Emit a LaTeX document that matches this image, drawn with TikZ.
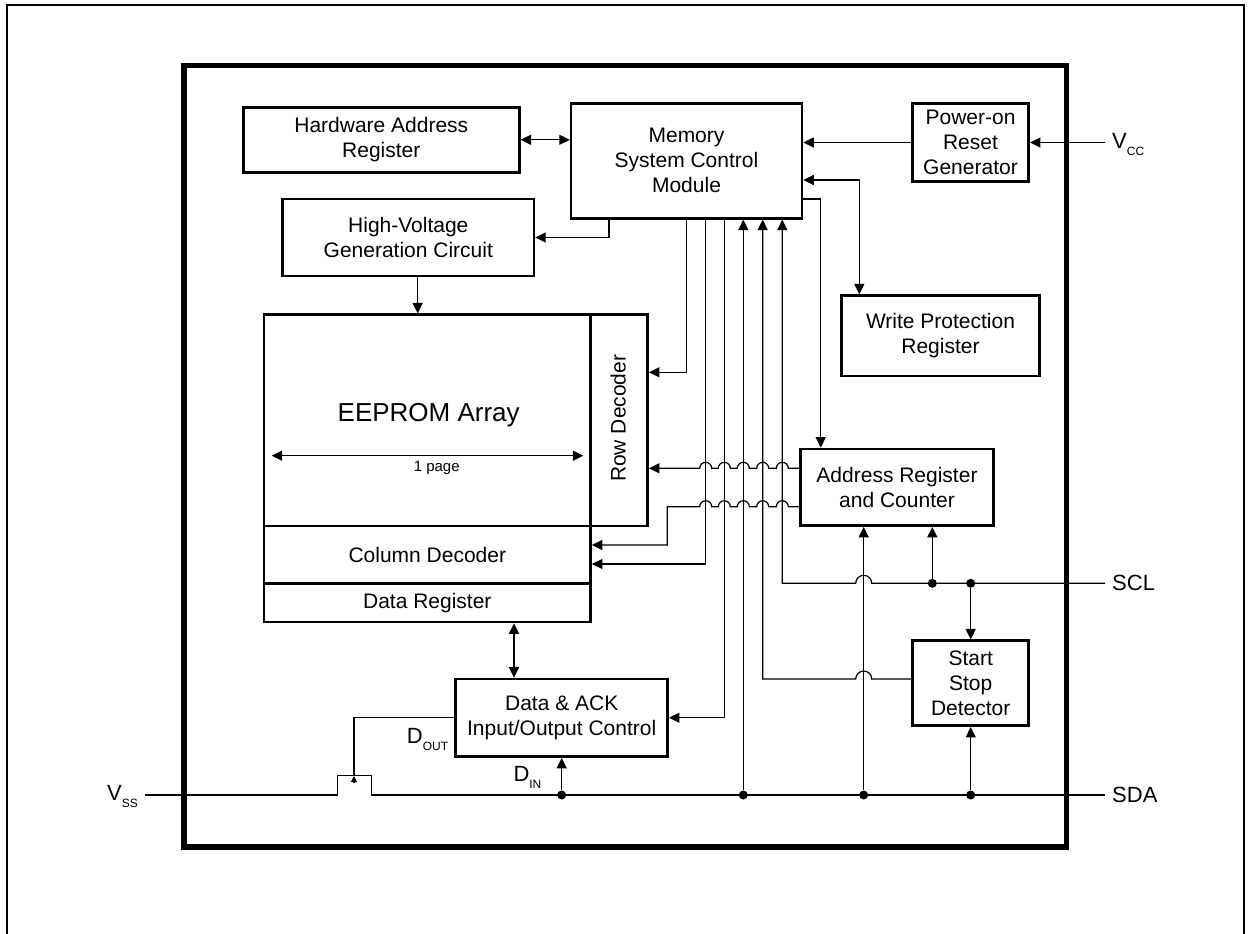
\documentclass[tikz,border=0pt]{standalone}
\usepackage{fontspec}
\setmainfont{Liberation Sans}
\usetikzlibrary{arrows.meta}
\newcommand{\lowsub}[1]{\raisebox{-7pt}{\fontsize{12}{12}\selectfont #1}}

\begin{document}
\begin{tikzpicture}[x=1pt,y=-1pt,
    blk/.style={draw,line width=2.5pt,inner sep=0pt,align=center,font=\fontsize{21}{25}\selectfont},
    wire/.style={line width=1.2pt},
    >={Triangle[length=10.5pt,width=10pt]},
    dot/.style={circle,fill,inner sep=0pt,minimum size=9pt},
    pin/.style={anchor=base west,inner sep=0pt,font=\fontsize{22}{22}\selectfont}]
  \useasboundingbox (0,0) rectangle (1251,934);
  \draw[line width=2.3pt] (7,934) -- (7,5) -- (1244,5) -- (1244,934);
  \draw[line width=5.5pt] (184,65.5) rectangle (1066.7,847);

  % blocks
  \node[blk,minimum width=276,minimum height=65] (har) at (381.3,139.8) {Hardware Address\\Register};
  \node[blk,minimum width=231,minimum height=115] (mscm) at (686.5,160.8) {Memory\\System Control\\Module};
  \node[blk,minimum width=251.3,minimum height=77] (hv) at (408.3,237.5) {High-Voltage\\Generation Circuit};
  \node[blk,minimum width=116.4,minimum height=78.4] (pwr) at (970.5,142.5) {Power-on\\Reset\\Generator};
  \node[blk,minimum width=197.6,minimum height=80.3] (wp) at (940.5,335.8) {Write Protection\\Register};
  \node[blk,minimum width=326.7,minimum height=211.3] (array) at (427.3,420.3) {};
  \node[blk,minimum width=57,minimum height=211.3] (row) at (619.2,420.3) {};
  \node[blk,minimum width=326.7,minimum height=57.3] (col) at (427.3,554.7) {Column Decoder};
  \node[blk,minimum width=326.7,minimum height=38.7] (dreg) at (427.3,602.7) {Data Register};
  \node[blk,minimum width=192.6,minimum height=76.7] (addr) at (897,487.3) {Address Register\\and Counter};
  \node[blk,minimum width=116,minimum height=85] (ssd) at (970.7,683.2) {Start\\Stop\\Detector};
  \node[blk,minimum width=212,minimum height=77.7] (dack) at (561.7,717.8) {Data \& ACK\\Input/Output Control};

  \node[anchor=base,font=\fontsize{26}{26}\selectfont] (arraytxt) at (428.7,421.7) {EEPROM Array};
  \node[rotate=90,font=\fontsize{21}{21}\selectfont] (rowtxt) at (618,418.3) {Row Decoder};
  \coordinate (pgl) at (271.7,455.7);
  \coordinate (pgr) at (583.3,455.7);
  \draw[wire,<->] (pgl) -- (pgr);
  \node[font=\fontsize{15}{15}\selectfont] (pgtxt) at (436.7,467.5) {1 page};

  % pins
  \coordinate (vcc) at (1105,142.5);
  \coordinate (scl) at (1105,583.3);
  \coordinate (sda) at (1105,795);
  \coordinate (vss) at (145,795);
  \node[pin] (vcclbl) at (1112,148.3) {V\lowsub{CC}};
  \node[pin] (scllbl) at (1112,590.7) {SCL};
  \node[pin] (sdalbl) at (1112,802.3) {SDA};
  \node[pin] (vsslbl) at (107,800) {V\lowsub{SS}};
  \node[pin] (doutlbl) at (406.7,743.3) {D\lowsub{OUT}};
  \node[pin] (dinlbl) at (513.3,781.7) {D\lowsub{IN}};

  % junctions
  \node[dot] (din) at (561.7,795) {};
  \node[dot] (sda1) at (743.3,795) {};
  \node[dot] (sda2) at (863.7,795) {};
  \node[dot] (sda3) at (970.7,795) {};
  \node[dot] (scl1) at (932.3,583.3) {};
  \node[dot] (scl2) at (970.7,583.3) {};

  \coordinate (wpx) at (859.3,180);
  \coordinate (hvx) at (609,237.5);
  \coordinate (hvy) at (417.7,300);
  \coordinate (l1) at (686.7,372.3);
  \coordinate (l2) at (705.7,564);
  \coordinate (l3) at (724.3,717.7);
  \coordinate (l5) at (762.7,679);
  \coordinate (l6) at (782.3,583.3);
  \coordinate (l7) at (820.7,199);
  \coordinate (au) at (800,468.3);
  \coordinate (al) at (800,506.7);
  \coordinate (colj) at (667.3,506.7);
  \coordinate (colk) at (667.3,545);
  \coordinate (dx) at (514,650);
  \coordinate (gl) at (337.3,775.7);
  \coordinate (gr) at (371.7,775.7);
  \coordinate (dout) at (354,717.7);
  \coordinate (gate) at (354,776);
  \coordinate (gatefoot) at (354,783);

  \begin{scope}[wire]
    \draw[<->] (har.east) -- (mscm.west |- har.east);
    \draw[->] (pwr.west) -- (mscm.east |- pwr.west);
    \draw[->] (vcc) -- (pwr.east);
    \draw[<->] (mscm.east |- wpx) -- (wpx) -- (wpx |- wp.north);
    \draw[->] (mscm.south -| hvx) -- (hvx) -- (hv.east);
    \draw[->] (hv.south -| hvy) -- (array.north -| hvy);
    \draw[->] (mscm.east |- l7) -- (l7) -- (l7 |- addr.north);
    \draw[->] (mscm.south -| l1) -- (l1) -- (row.east |- l1);
    \draw[->] (mscm.south -| l2) -- (l2) -- (col.east |- l2);
    \draw[->] (mscm.south -| l3) -- (l3) -- (dack.east |- l3);
    \draw[->] (sda1) -- (sda1 |- mscm.south);
    \draw[->] (ssd.west |- l5) -- (871.7,679) arc[start angle=0,end angle=-180,radius=8]
      -- (l5) -- (l5 |- mscm.south);
    \draw[->] (scl) -- (871.7,583.3) arc[start angle=0,end angle=-180,radius=8]
      -- (l6) -- (l6 |- mscm.south);
    \draw[->] (addr.west |- au)
      \foreach \xc in {782.3,762.7,743.3,724.3,705.7} {
        -- (\xc+6,468.3) arc[start angle=0,end angle=-180,radius=6] }
      -- (row.east |- au);
    \draw[->] (addr.west |- al)
      \foreach \xc in {782.3,762.7,743.3,724.3,705.7} {
        -- (\xc+6,506.7) arc[start angle=0,end angle=-180,radius=6] }
      -- (colj) -- (colk) -- (col.east |- colk);
    \draw[->] (sda2) -- (sda2 |- addr.south);
    \draw[->] (scl1) -- (scl1 |- addr.south);
    \draw[->] (scl2) -- (ssd.north);
    \draw[->] (sda3) -- (ssd.south);
    \draw[->] (din) -- (dack.south);
    \draw[<->] (dreg.south -| dx) -- (dack.north -| dx);
    \draw (vss) -- (vss -| gl) -- (gl) -- (gr) -- (gr |- sda) -- (sda);
    \draw (dack.west |- dout) -- (dout) -- (gate);
    \draw[-{Triangle[length=6pt,width=6pt]}] (gatefoot) -- (gate);
  \end{scope}
\end{tikzpicture}
\end{document}
